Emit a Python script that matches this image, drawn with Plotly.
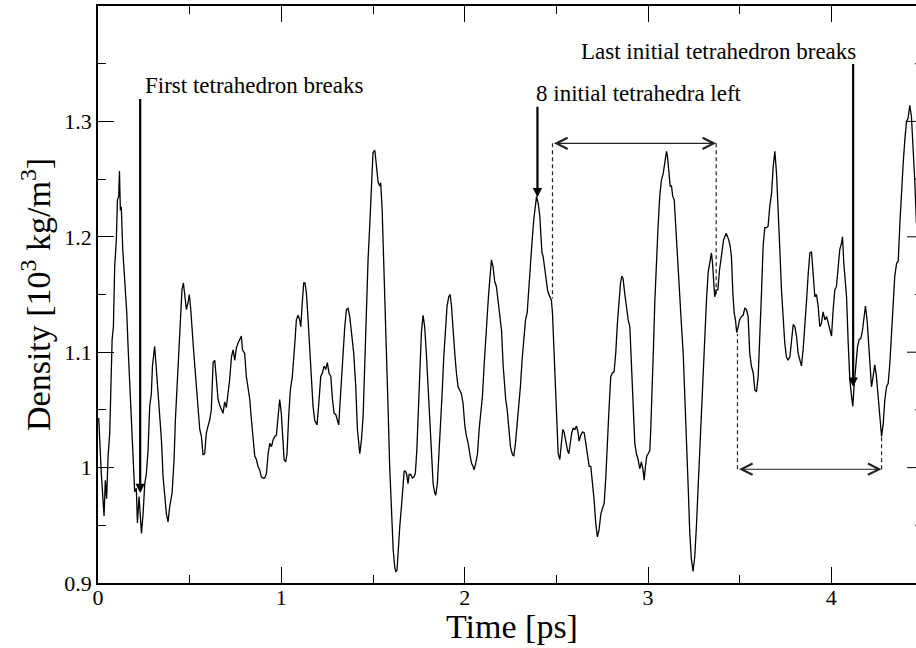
import plotly.graph_objects as go

# ---------------- data ----------------
time_ps = [
    0.004, 0.018, 0.033, 0.040, 0.047, 0.055, 0.064, 0.069, 0.077, 0.084, 0.091, 0.100, 0.106, 0.113, 0.117,
    0.122, 0.127, 0.135, 0.142, 0.149, 0.157, 0.164, 0.173, 0.182, 0.191, 0.200, 0.209, 0.215, 0.224, 0.231,
    0.237, 0.246, 0.255, 0.264, 0.273, 0.282, 0.291, 0.297, 0.306, 0.309, 0.317, 0.328, 0.337, 0.346, 0.355,
    0.364, 0.373, 0.382, 0.391, 0.404, 0.415, 0.422, 0.433, 0.446, 0.451, 0.458, 0.466, 0.473, 0.482, 0.491,
    0.498, 0.506, 0.513, 0.520, 0.528, 0.537, 0.546, 0.555, 0.564, 0.573, 0.582, 0.591, 0.600, 0.609, 0.618,
    0.628, 0.637, 0.646, 0.655, 0.664, 0.673, 0.682, 0.691, 0.700, 0.709, 0.718, 0.728, 0.737,
    0.746, 0.755, 0.764, 0.773, 0.782, 0.788, 0.800, 0.809, 0.819, 0.828, 0.837, 0.846, 0.855, 0.864, 0.873,
    0.882, 0.891, 0.900, 0.909, 0.919, 0.928, 0.937, 0.946, 0.955, 0.964, 0.973, 0.982, 0.991, 1.000, 1.009,
    1.015, 1.024, 1.031, 1.040, 1.049, 1.060, 1.068, 1.075, 1.082, 1.091, 1.100, 1.106, 1.115, 1.122, 1.129,
    1.137, 1.146, 1.155, 1.164, 1.173, 1.182, 1.195, 1.206, 1.215, 1.224, 1.233, 1.242, 1.251, 1.260, 1.270,
    1.279, 1.288, 1.297, 1.306, 1.313, 1.319, 1.328, 1.337, 1.346, 1.355, 1.364, 1.373, 1.384, 1.395, 1.406,
    1.415, 1.428, 1.437, 1.446, 1.455, 1.464, 1.473,
    1.482, 1.491, 1.500, 1.510, 1.519, 1.528, 1.537, 1.542, 1.550, 1.557, 1.564, 1.573, 1.582, 1.591, 1.600,
    1.610, 1.619, 1.624, 1.631, 1.637, 1.646, 1.655, 1.664, 1.670, 1.677, 1.684, 1.691, 1.697, 1.706, 1.715,
    1.724, 1.731, 1.739, 1.746, 1.755, 1.764, 1.773, 1.782, 1.791, 1.801, 1.810, 1.819, 1.828, 1.837, 1.842,
    1.851, 1.859, 1.868, 1.877, 1.886, 1.895, 1.904, 1.913, 1.921, 1.928, 1.937, 1.946, 1.955, 1.964, 1.973,
    1.982, 1.991, 2.001, 2.010, 2.019, 2.028, 2.037, 2.046, 2.051, 2.061, 2.070, 2.079, 2.088, 2.097, 2.106,
    2.115, 2.124, 2.131, 2.139, 2.146, 2.155, 2.164, 2.173, 2.182, 2.191, 2.201,
    2.210, 2.219, 2.224, 2.232, 2.241, 2.250, 2.261, 2.268, 2.277, 2.286, 2.295, 2.304, 2.313, 2.322, 2.332,
    2.341, 2.350, 2.359, 2.368, 2.377, 2.384, 2.392, 2.401, 2.410, 2.415, 2.422, 2.428, 2.437, 2.446, 2.452,
    2.457, 2.464, 2.473, 2.479, 2.486, 2.493, 2.501, 2.510, 2.519, 2.526, 2.535, 2.542, 2.552, 2.561, 2.568,
    2.577, 2.584, 2.592, 2.601, 2.610, 2.619, 2.624, 2.633, 2.643, 2.652, 2.661, 2.670, 2.679, 2.688, 2.697,
    2.706, 2.715, 2.724, 2.733, 2.743, 2.752, 2.761, 2.770, 2.779, 2.788, 2.797, 2.806, 2.815, 2.824, 2.833,
    2.843, 2.850, 2.857, 2.864, 2.873, 2.883, 2.892, 2.901, 2.910, 2.919, 2.928, 2.937, 2.946,
    2.955, 2.964, 2.973, 2.979, 2.986, 2.993, 3.001, 3.010, 3.015, 3.023, 3.030, 3.037, 3.046, 3.055, 3.064,
    3.073, 3.083, 3.092, 3.101, 3.106, 3.113, 3.121, 3.128, 3.135, 3.143, 3.150, 3.157, 3.164, 3.173, 3.183,
    3.192, 3.201, 3.210, 3.219, 3.228, 3.237, 3.246, 3.255, 3.264, 3.274, 3.283, 3.292, 3.301, 3.310, 3.319,
    3.328, 3.337, 3.346, 3.352, 3.357, 3.364, 3.372, 3.381, 3.390, 3.397, 3.404, 3.412, 3.419, 3.426, 3.434,
    3.441, 3.448, 3.455, 3.463, 3.470, 3.477, 3.484, 3.492, 3.499, 3.510, 3.519, 3.528, 3.537, 3.546, 3.555,
    3.564, 3.574, 3.583, 3.592, 3.601, 3.610, 3.619, 3.628, 3.637, 3.646, 3.655, 3.664, 3.674, 3.683, 3.692,
    3.701, 3.710, 3.719, 3.728, 3.737, 3.746, 3.755, 3.764, 3.774, 3.783, 3.792, 3.801, 3.810, 3.819, 3.828,
    3.837, 3.846, 3.855, 3.865, 3.874, 3.883, 3.892, 3.901, 3.910, 3.919, 3.928, 3.937, 3.946, 3.955, 3.965,
    3.974, 3.983, 3.992, 4.001, 4.010, 4.019, 4.028, 4.037, 4.046, 4.056, 4.061, 4.068, 4.076, 4.083, 4.092,
    4.101, 4.110, 4.117, 4.125, 4.134, 4.143, 4.152, 4.161, 4.170, 4.179, 4.186, 4.195, 4.203, 4.210, 4.219,
    4.228, 4.237, 4.246, 4.256, 4.265, 4.274, 4.283, 4.292, 4.301, 4.310, 4.319, 4.328, 4.337, 4.346, 4.356,
    4.365, 4.374, 4.383, 4.392, 4.401, 4.410, 4.419, 4.428, 4.437, 4.446, 4.455, 4.464,
]

density = [
    1.043, 0.995, 0.958, 0.989, 0.973, 1.010, 1.030, 1.067, 1.111, 1.122, 1.174, 1.197, 1.232, 1.235, 1.257,
    1.223, 1.226, 1.189, 1.174, 1.151, 1.134, 1.105, 1.073, 1.033, 1.001, 0.979, 0.982, 0.952, 0.975, 0.958,
    0.943, 0.960, 0.986, 0.995, 1.015, 1.053, 1.064, 1.088, 1.099, 1.105, 1.088, 1.064, 1.050, 1.024, 0.992,
    0.972, 0.960, 0.953, 0.966, 0.978, 1.007, 1.041, 1.076, 1.117, 1.131, 1.154, 1.160, 1.148, 1.137, 1.143,
    1.150, 1.137, 1.117, 1.105, 1.088, 1.070, 1.044, 1.033, 1.027, 1.011, 1.012, 1.030, 1.036, 1.041, 1.050,
    1.091, 1.093, 1.073, 1.059, 1.054, 1.050, 1.047, 1.057, 1.052, 1.064, 1.076, 1.096, 1.102,
    1.093, 1.104, 1.108, 1.111, 1.114, 1.102, 1.099, 1.079, 1.070, 1.059, 1.041, 1.021, 1.010, 1.007, 1.001,
    0.998, 0.992, 0.991, 0.991, 0.995, 1.012, 1.021, 1.018, 1.024, 1.027, 1.028, 1.041, 1.059, 1.047, 1.024,
    1.007, 1.005, 1.012, 1.044, 1.067, 1.079, 1.093, 1.111, 1.128, 1.132, 1.128, 1.122, 1.145, 1.160, 1.160,
    1.151, 1.128, 1.102, 1.070, 1.053, 1.041, 1.037, 1.059, 1.079, 1.082, 1.088, 1.085, 1.091, 1.082, 1.079,
    1.059, 1.047, 1.046, 1.041, 1.037, 1.053, 1.079, 1.102, 1.122, 1.137, 1.138, 1.131, 1.117, 1.099, 1.070,
    1.033, 1.012, 1.024, 1.044, 1.088, 1.142, 1.180,
    1.209, 1.244, 1.273, 1.275, 1.261, 1.247, 1.244, 1.247, 1.223, 1.189, 1.151, 1.099, 1.053, 1.001, 0.958,
    0.929, 0.913, 0.910, 0.911, 0.929, 0.949, 0.966, 0.986, 0.997, 0.997, 0.994, 0.986, 0.994, 0.994, 0.991,
    0.992, 0.995, 1.015, 1.044, 1.088, 1.117, 1.132, 1.122, 1.099, 1.070, 1.041, 1.010, 0.986, 0.978, 0.976,
    0.986, 1.007, 1.038, 1.064, 1.096, 1.119, 1.140, 1.148, 1.150, 1.140, 1.117, 1.099, 1.082, 1.070, 1.067,
    1.064, 1.056, 1.036, 1.027, 1.021, 1.012, 1.004, 1.001, 0.998, 1.004, 1.012, 1.033, 1.050, 1.062, 1.088,
    1.117, 1.134, 1.151, 1.169, 1.180, 1.174, 1.161, 1.157, 1.145, 1.131, 1.119,
    1.088, 1.062, 1.059, 1.050, 1.036, 1.018, 1.011, 1.010, 1.021, 1.036, 1.050, 1.070, 1.093, 1.111, 1.128,
    1.134, 1.157, 1.183, 1.197, 1.215, 1.226, 1.235, 1.229, 1.218, 1.203, 1.186, 1.183, 1.171, 1.157, 1.154,
    1.151, 1.148, 1.145, 1.134, 1.105, 1.073, 1.041, 1.012, 1.007, 1.021, 1.033, 1.031, 1.021, 1.015, 1.012,
    1.024, 1.030, 1.034, 1.033, 1.036, 1.030, 1.023, 1.028, 1.031, 1.030, 1.021, 1.010, 1.001, 1.001, 0.989,
    0.972, 0.952, 0.940, 0.946, 0.960, 0.965, 0.969, 0.992, 1.027, 1.053, 1.079, 1.082, 1.083, 1.099, 1.125,
    1.148, 1.160, 1.166, 1.164, 1.151, 1.137, 1.128, 1.122, 1.088, 1.059, 1.021, 1.012, 1.007,
    0.999, 1.005, 0.998, 0.989, 1.001, 1.010, 1.012, 1.015, 1.033, 1.064, 1.105, 1.143, 1.180, 1.209, 1.235,
    1.249, 1.255, 1.267, 1.274, 1.270, 1.258, 1.244, 1.244, 1.235, 1.232, 1.212, 1.189, 1.166, 1.140, 1.122,
    1.099, 1.064, 1.024, 0.984, 0.943, 0.920, 0.910, 0.923, 0.949, 0.986, 1.021, 1.059, 1.088, 1.119, 1.145,
    1.169, 1.180, 1.186, 1.177, 1.163, 1.148, 1.154, 1.154, 1.171, 1.180, 1.189, 1.197, 1.200, 1.203, 1.200,
    1.197, 1.192, 1.183, 1.151, 1.134, 1.128, 1.117, 1.122, 1.128, 1.131, 1.132, 1.138, 1.137, 1.131, 1.099,
    1.088, 1.082, 1.067, 1.066, 1.079, 1.111, 1.151, 1.192, 1.208, 1.208, 1.209, 1.226, 1.238, 1.261, 1.274,
    1.255, 1.226, 1.189, 1.154, 1.125, 1.108, 1.096, 1.093, 1.096, 1.108, 1.124, 1.122, 1.114, 1.099, 1.093,
    1.088, 1.102, 1.119, 1.145, 1.168, 1.186, 1.187, 1.171, 1.148, 1.150, 1.140, 1.122, 1.125, 1.135, 1.128,
    1.131, 1.125, 1.119, 1.114, 1.137, 1.154, 1.157, 1.177, 1.189, 1.195, 1.200, 1.177, 1.160, 1.148, 1.108,
    1.076, 1.062, 1.053, 1.073, 1.088, 1.105, 1.111, 1.112, 1.119, 1.131, 1.140, 1.128, 1.105, 1.090, 1.070,
    1.079, 1.089, 1.079, 1.062, 1.041, 1.027, 1.038, 1.059, 1.070, 1.073, 1.090, 1.119, 1.142, 1.166, 1.177,
    1.179, 1.212, 1.241, 1.264, 1.284, 1.300, 1.303, 1.314, 1.304, 1.278, 1.249, 1.212,
]

x_tick_vals = [0, 1, 2, 3, 4]
x_minor_vals = [0.5, 1.5, 2.5, 3.5]
y_tick_vals = [0.9, 1.0, 1.1, 1.2, 1.3]
y_tick_text = ["0.9", "1", "1.1", "1.2", "1.3"]
y_minor_vals = [0.95, 1.05, 1.15, 1.25, 1.35]

x_axis_end = 4.5          # full x range of the original frame
y_range = [0.9, 1.4]

# annotation texts and anchor points (data coordinates)
labels = [
    ("First tetrahedron breaks", 0.244, 1.331),
    ("8 initial tetrahedra left", 2.379, 1.3246),
    ("Last initial tetrahedron breaks", 2.624, 1.361),
]
# thick vertical arrows: (x, y_tail, y_head)
vertical_arrows = [
    (0.230, 1.3207, 0.978),
    (2.397, 1.3139, 1.2342),
    (4.119, 1.351, 1.070),
]
# double-headed horizontal arrows: (x_start, x_end, y)
span_arrows = [
    (2.479, 3.372, 1.281),
    (3.488, 4.274, 0.9986),
]
# dashed guides: (x, y0, y1)
dashed_guides = [
    (2.479, 1.281, 1.1465),
    (3.372, 1.281, 1.148),
    (3.488, 0.9986, 1.116),
    (4.274, 0.9986, 1.027),
]

# ---------------- figure ----------------
W, H = 916, 648
ML, MR, MT, MB = 98, 0, 6, 65
plot_w = W - ML - MR
px_per_unit = 825 / x_axis_end
x_visible_end = plot_w / px_per_unit

FONT = "Liberation Serif, Times New Roman, serif"

fig = go.Figure()
fig.add_trace(go.Scatter(
    x=time_ps, y=density, mode="lines",
    line=dict(color="black", width=1.3),
    showlegend=False, hoverinfo="skip",
))

axis_common = dict(
    showline=True, linecolor="black", linewidth=1.6,
    ticks="inside", ticklen=16, tickwidth=1, tickcolor="black",
    showgrid=False, zeroline=False,
    tickfont=dict(family=FONT, size=22, color="black"),
)

fig.update_xaxes(
    range=[0, x_visible_end], tickmode="array", tickvals=x_tick_vals,
    mirror="ticks", ticklabelstandoff=-6,
    minor=dict(tickmode="array", tickvals=x_minor_vals, ticks="inside", ticklen=8,
               tickwidth=1, tickcolor="black", showgrid=False),
    **axis_common,
)
fig.update_yaxes(
    range=y_range, tickmode="array", tickvals=y_tick_vals, ticktext=y_tick_text,
    mirror=False,
    minor=dict(tickmode="array", tickvals=y_minor_vals, ticks="inside", ticklen=8,
               tickwidth=1, tickcolor="black", showgrid=False),
    **axis_common,
)

shapes = []
# right-hand frame ticks (frame itself lies just beyond the visible area)
for v in y_tick_vals[1:]:
    shapes.append(dict(type="line", xref="x", yref="y", x0=x_axis_end - 16 / px_per_unit, x1=x_axis_end,
                       y0=v, y1=v, line=dict(color="black", width=1)))
for v in y_minor_vals:
    shapes.append(dict(type="line", xref="x", yref="y", x0=x_axis_end - 8 / px_per_unit, x1=x_axis_end,
                       y0=v, y1=v, line=dict(color="black", width=1)))
for gx, gy0, gy1 in dashed_guides:
    shapes.append(dict(type="line", xref="x", yref="y", x0=gx, x1=gx, y0=gy0, y1=gy1,
                       line=dict(color="#222222", width=1.2, dash="4px,3px")))

annotations = []
for txt, tx, ty in labels:
    annotations.append(dict(text=txt, x=tx, y=ty, xref="x", yref="y", xanchor="left", yanchor="middle",
                            showarrow=False, font=dict(family=FONT, size=23, color="black")))
for vx, ytail, yhead in vertical_arrows:
    annotations.append(dict(text="", x=vx, y=yhead, ax=vx, ay=ytail, xref="x", yref="y", axref="x", ayref="y",
                            showarrow=True, arrowhead=2, arrowsize=0.85, arrowwidth=2.2, arrowcolor="black",
                            standoff=0, startstandoff=0))
for xs, xe, yy in span_arrows:
    annotations.append(dict(text="", x=xe, y=yy, ax=xs, ay=yy, xref="x", yref="y", axref="x", ayref="y",
                            showarrow=True, arrowside="end+start", arrowhead=5, startarrowhead=5,
                            arrowsize=2, startarrowsize=2, arrowwidth=1.1, arrowcolor="#222222",
                            standoff=0, startstandoff=0))

# axis titles
annotations.append(dict(text="Time [ps]", xref="x", yref="paper", x=(512 - ML) / px_per_unit,
                        y=1 - (626.5 - MT) / (H - MT - MB), xanchor="center", yanchor="middle",
                        showarrow=False, font=dict(family=FONT, size=34, color="black")))
annotations.append(dict(text="Density [10<sup>3</sup> kg/m<sup>3</sup>]", xref="paper", yref="paper",
                        x=(35.5 - ML) / plot_w, y=0.5, xanchor="center", yanchor="middle", textangle=-90,
                        showarrow=False, font=dict(family=FONT, size=34, color="black")))

fig.update_layout(
    width=W, height=H,
    margin=dict(l=ML, r=MR, t=MT, b=MB, pad=0),
    paper_bgcolor="white", plot_bgcolor="white",
    font=dict(family=FONT, color="black"),
    shapes=shapes, annotations=annotations,
    showlegend=False,
)

fig.write_html("out.html", config={"displayModeBar": False})
